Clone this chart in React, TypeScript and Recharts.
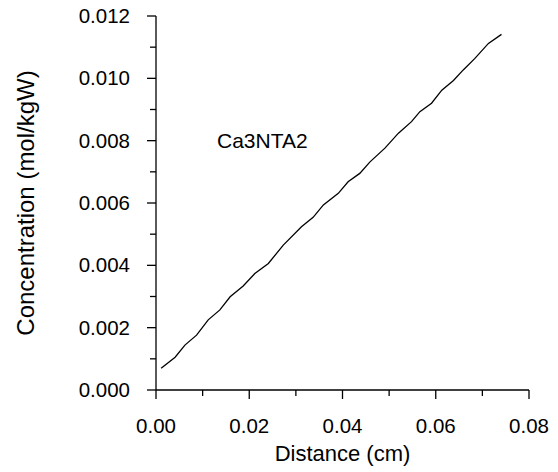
import React from 'react';
import { LineChart, Line, XAxis, YAxis } from 'recharts';

// Distance along the profile (cm)
const distance = [
  0.0011, 0.0041, 0.0062, 0.0087, 0.0112, 0.0137, 0.0159, 0.0187, 0.0212, 0.0241,
  0.0273, 0.0312, 0.0337, 0.0359, 0.0391, 0.0412, 0.0437, 0.0459, 0.0491, 0.052,
  0.0548, 0.0566, 0.0591, 0.0613, 0.0638, 0.0659, 0.0684, 0.0713, 0.0741,
];

// Ca3NTA2 concentration (mol/kgW)
const concentration = [
  0.0007, 0.00105, 0.00144, 0.00176, 0.00225, 0.00257, 0.00299, 0.00334, 0.00374, 0.00406,
  0.00465, 0.00524, 0.00554, 0.00594, 0.00631, 0.00668, 0.00695, 0.00732, 0.00776, 0.00824,
  0.00861, 0.00893, 0.0092, 0.00962, 0.00993, 0.01027, 0.01064, 0.01112, 0.01141,
];

const xTicks = [0, 0.01, 0.02, 0.03, 0.04, 0.05, 0.06, 0.07, 0.08];
const yTicks = [0, 0.001, 0.002, 0.003, 0.004, 0.005, 0.006, 0.007, 0.008, 0.009, 0.01, 0.011, 0.012];

const seriesName = 'Ca3NTA2';
const xTitle = 'Distance (cm)';
const yTitle = 'Concentration (mol/kgW)';

const data = distance.map((d, i) => ({ d, c: concentration[i] }));

const FONT = '"Liberation Sans", Arial, sans-serif';
const TICK_FS = 20.5;

const XTick = (props: any) => {
  const { x, y, payload } = props;
  const v = payload.value as number;
  const major = Math.round(v * 100) % 2 === 0;
  return (
    <g>
      <line x1={x} x2={x} y1={y} y2={y + (major ? 9 : 6)} stroke="#000" strokeWidth={1.3} />
      {major && (
        <text x={x} y={y + 43} textAnchor="middle" fontSize={TICK_FS} fontFamily={FONT} fill="#000">
          {v.toFixed(2)}
        </text>
      )}
    </g>
  );
};

const YTick = (props: any) => {
  const { x, y, payload } = props;
  const v = payload.value as number;
  const major = Math.round(v * 1000) % 2 === 0;
  return (
    <g>
      <line x1={x - (major ? 9 : 6)} x2={x} y1={y} y2={y} stroke="#000" strokeWidth={1.3} />
      {major && (
        <text x={x - 26} y={y + 7} textAnchor="end" fontSize={TICK_FS} fontFamily={FONT} fill="#000">
          {v.toFixed(3)}
        </text>
      )}
    </g>
  );
};

export default function App() {
  return (
    <div style={{ position: 'absolute', left: 0, top: 0, width: 558, height: 472, background: '#fff' }}>
      <LineChart
        width={558}
        height={472}
        data={data}
        margin={{ top: 16, right: 29, bottom: 0, left: 56 }}
      >
        <XAxis
          dataKey="d"
          type="number"
          domain={[0, 0.08]}
          ticks={xTicks}
          interval={0}
          height={82}
          tickSize={0}
          tickMargin={0}
          tickLine={false}
          axisLine={{ stroke: '#000', strokeWidth: 1.3 }}
          tick={<XTick />}
          label={{ value: xTitle, position: 'insideBottom', offset: 11, fontSize: 22, fontFamily: FONT, fill: '#000' }}
        />
        <YAxis
          dataKey="c"
          type="number"
          domain={[0, 0.012]}
          ticks={yTicks}
          interval={0}
          width={100}
          tickSize={0}
          tickMargin={0}
          tickLine={false}
          axisLine={{ stroke: '#000', strokeWidth: 1.3 }}
          tick={<YTick />}
          label={{ value: yTitle, angle: -90, position: 'insideLeft', offset: -31, style: { textAnchor: 'middle' }, fontSize: 24, fontFamily: FONT, fill: '#000' }}
        />
        <Line
          dataKey="c"
          stroke="#000"
          strokeWidth={1.3}
          dot={false}
          type="linear"
          isAnimationActive={false}
        />
        <text x={217} y={148} fontSize={21} fontFamily={FONT} fill="#000">
          {seriesName}
        </text>
      </LineChart>
    </div>
  );
}
